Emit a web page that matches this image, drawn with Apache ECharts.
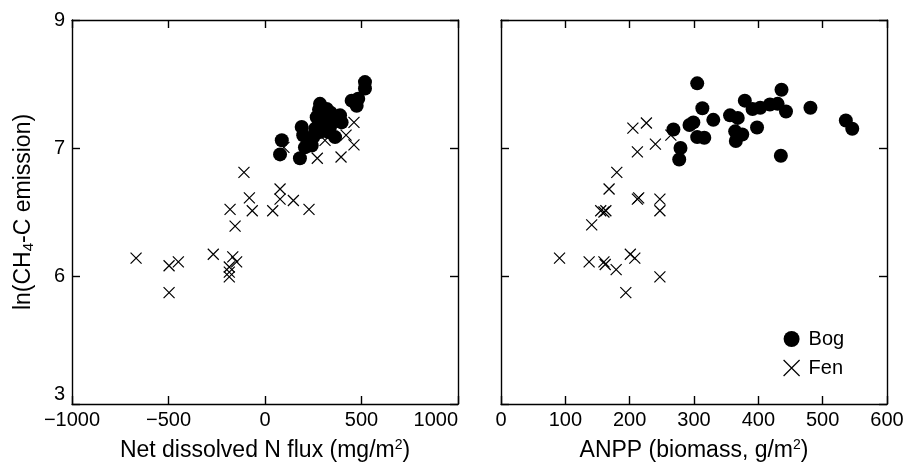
<!DOCTYPE html>
<html><head><meta charset="utf-8">
<script src="https://cdn.jsdelivr.net/npm/echarts@6/dist/echarts.min.js"></script>
<style>html,body{margin:0;padding:0;background:#fff}#c{width:907px;height:464px}</style>
</head><body><div id="c"></div>
<script>
// y tick labels (equally spaced on the printed axis)
var yTickLabels = ['3', '6', '7', '9'];
var fluxTicks = [-1000, -500, 0, 500, 1000];
var anppTicks = [0, 100, 200, 300, 400, 500, 600];

// Left panel: Net dissolved N flux (mg/m2) vs ln(CH4-C emission)
var bogFluxX = [87, 78, 181, 190, 198, 207, 250, 268, 285, 320, 302, 337, 328, 285, 354, 397, 389, 449, 475, 483, 518, 518, 242, 363, 260, 300, 310, 280, 340, 230];
var bogFluxY = [7.12, 6.95, 6.92, 7.33, 7.20, 7.01, 7.17, 7.48, 7.69, 7.61, 7.38, 7.33, 7.25, 7.25, 7.48, 7.40, 7.51, 7.74, 7.66, 7.77, 8.03, 7.93, 7.04, 7.17, 7.30, 7.55, 7.45, 7.60, 7.55, 7.12];
var fenFluxX = [-668, -497, -449, -497, -268, -185, -185, -185, -167, -147, -155, -181, -81, -66, -109, 40, 78, 78, 147, 228, 271, 394, 461, 461, 420, 311, 98];
var fenFluxY = [6.14, 6.08, 6.11, 5.61, 6.17, 6.07, 6.03, 5.98, 6.15, 6.11, 6.39, 6.52, 6.61, 6.51, 6.81, 6.51, 6.68, 6.60, 6.59, 6.52, 6.92, 6.93, 7.05, 7.40, 7.20, 7.12, 7.01];

// Right panel: ANPP (biomass, g/m2) vs ln(CH4-C emission)
var bogAnppX = [305, 313, 299, 293, 330, 305, 316, 268, 279, 277, 356, 368, 379, 391, 403, 418, 430, 443, 436, 481, 398, 364, 375, 365, 435, 536, 546];
var bogAnppY = [8.01, 7.62, 7.40, 7.36, 7.44, 7.17, 7.16, 7.29, 7.00, 6.91, 7.51, 7.47, 7.74, 7.61, 7.63, 7.68, 7.69, 7.57, 7.91, 7.63, 7.32, 7.26, 7.21, 7.11, 6.94, 7.43, 7.30];
var fenAnppX = [205, 226, 240, 212, 180, 168, 155, 160, 163, 141, 212, 214, 247, 247, 91, 137, 160, 162, 179, 201, 208, 247, 194, 264];
var fenAnppY = [7.31, 7.39, 7.06, 6.97, 6.81, 6.68, 6.51, 6.50, 6.51, 6.40, 6.60, 6.61, 6.60, 6.51, 6.14, 6.11, 6.11, 6.09, 6.05, 6.17, 6.14, 5.98, 5.61, 7.20];

// printed axis is piecewise: 3,6,7,9 equally spaced
var tickVals = [3, 6, 7, 9];
function toPos(v) {
  for (var i = 0; i < tickVals.length - 1; i++) {
    if (v <= tickVals[i + 1] || i === tickVals.length - 2) {
      return i + (v - tickVals[i]) / (tickVals[i + 1] - tickVals[i]);
    }
  }
}
function pairs(xs, ys) { return xs.map(function (x, i) { return [x, toPos(ys[i])]; }); }

var FONT = 'Liberation Sans';
var crossPath = 'path://M0,0L10,10M10,0L0,10';
var lineStyle = { color: '#000', width: 1.4 };
var tick = { show: true, inside: true, length: 8, lineStyle: { color: '#000', width: 1.4 } };
var lblStyle = { color: '#000', fontSize: 20, fontFamily: FONT };

function xAx(gi, min, max, interval, name, pos, showLbl, alignMax) {
  var a = {
    type: 'value', gridIndex: gi, min: min, max: max, interval: interval, position: pos,
    axisLine: { show: true, onZero: false, lineStyle: lineStyle },
    axisTick: tick, splitLine: { show: false },
    axisLabel: Object.assign({ show: showLbl, margin: 6,
      formatter: function (v) { return String(v).replace('-', '\u2212'); } }, lblStyle)
  };
  if (alignMax) a.axisLabel.alignMaxLabel = 'right';
  if (name) {
    a.name = name; a.nameLocation = 'middle'; a.nameGap = 34;
    a.nameTextStyle = { color: '#000', fontSize: 23, fontFamily: FONT, lineHeight: 26,
      rich: { sup: { fontSize: 14, verticalAlign: 'top', lineHeight: 14, fontFamily: FONT, color: '#000' } } };
  }
  return a;
}
function yAx(gi, pos, showLbl, name) {
  var a = {
    type: 'value', gridIndex: gi, min: 0, max: 3, interval: 1, position: pos,
    axisLine: { show: true, onZero: false, lineStyle: lineStyle },
    axisTick: tick, splitLine: { show: false },
    axisLabel: Object.assign({ show: showLbl, margin: 7, verticalAlignMinLabel: 'bottom',
      formatter: function (v) { return yTickLabels[Math.round(v)]; } }, lblStyle)
  };
  if (name) {
    a.name = name; a.nameLocation = 'middle'; a.nameGap = 36;
    a.nameTextStyle = { color: '#000', fontSize: 23, fontFamily: FONT, lineHeight: 25,
      rich: { sub: { fontSize: 15, verticalAlign: 'bottom', lineHeight: 15, fontFamily: FONT, color: '#000' } } };
  }
  return a;
}

var bogStyle = { color: '#000', opacity: 1 };
var fenStyle = { color: 'transparent', borderColor: '#000', borderWidth: 1.2, opacity: 1 };

var chart = echarts.init(document.getElementById('c'), null, { renderer: 'canvas' });
chart.setOption({
  animation: false,
  backgroundColor: '#fff',
  grid: [
    { left: 72, top: 20, width: 386, height: 384, containLabel: false, outerBoundsMode: 'none' },
    { left: 501, top: 20, width: 386, height: 384, containLabel: false, outerBoundsMode: 'none' }
  ],
  xAxis: [
    xAx(0, fluxTicks[0], fluxTicks[fluxTicks.length - 1], 500, 'Net dissolved N flux (mg/m{sup|2})', 'bottom', true, true),
    xAx(0, fluxTicks[0], fluxTicks[fluxTicks.length - 1], 500, null, 'top', false),
    xAx(1, anppTicks[0], anppTicks[anppTicks.length - 1], 100, 'ANPP (biomass, g/m{sup|2})', 'bottom', true, false),
    xAx(1, anppTicks[0], anppTicks[anppTicks.length - 1], 100, null, 'top', false)
  ],
  yAxis: [
    yAx(0, 'left', true, 'ln(CH{sub|4}-C emission)'),
    yAx(0, 'right', false),
    yAx(1, 'left', false),
    yAx(1, 'right', false)
  ],
  legend: {
    orient: 'vertical', left: 778, top: 324, itemGap: 9, itemWidth: 16, itemHeight: 16,
    textStyle: { color: '#000', fontSize: 20, fontFamily: FONT, padding: [0, 0, 0, 4] },
    data: [
      { name: 'Bog', icon: 'circle', itemStyle: bogStyle },
      { name: 'Fen', icon: crossPath, itemStyle: { color: 'transparent', borderColor: '#000', borderWidth: 1.2 } }
    ]
  },
  series: [
    { name: 'Fen', type: 'scatter', xAxisIndex: 0, yAxisIndex: 0, symbol: crossPath, symbolSize: 11, itemStyle: fenStyle, data: pairs(fenFluxX, fenFluxY) },
    { name: 'Bog', type: 'scatter', xAxisIndex: 0, yAxisIndex: 0, symbol: 'circle', symbolSize: 14, itemStyle: bogStyle, data: pairs(bogFluxX, bogFluxY) },
    { name: 'Fen', type: 'scatter', xAxisIndex: 2, yAxisIndex: 2, symbol: crossPath, symbolSize: 11, itemStyle: fenStyle, data: pairs(fenAnppX, fenAnppY) },
    { name: 'Bog', type: 'scatter', xAxisIndex: 2, yAxisIndex: 2, symbol: 'circle', symbolSize: 14, itemStyle: bogStyle, data: pairs(bogAnppX, bogAnppY) }
  ]
});
</script></body></html>
